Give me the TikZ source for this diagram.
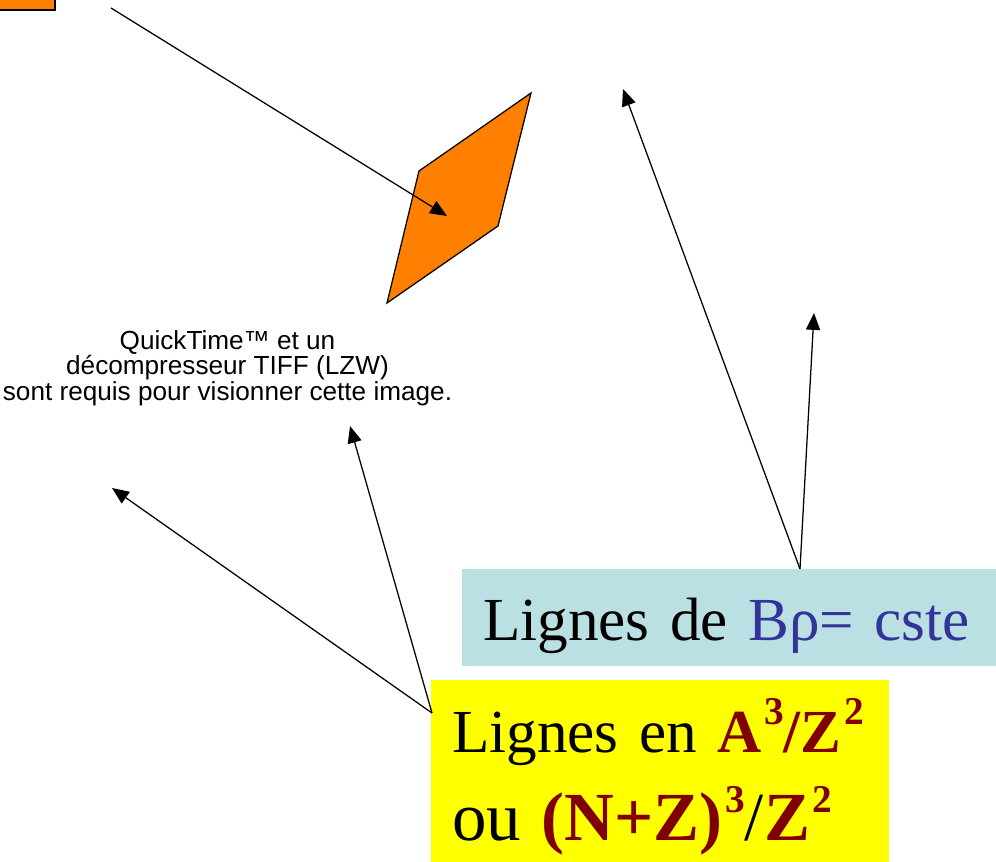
\documentclass[tikz,border=0pt]{standalone}
\usepackage{fontspec}
\setmainfont{Liberation Serif}
\newfontfamily\qtfont{Liberation Sans}
\usepackage{tikz}
\usetikzlibrary{arrows.meta,calc}
\definecolor{orng}{HTML}{FF8000}
\definecolor{brhofill}{HTML}{BBE0E3}
\definecolor{brhotext}{HTML}{333399}
\definecolor{axzfill}{HTML}{FFFF00}
\definecolor{dred}{HTML}{800000}
\tikzset{
  shp/.style={draw=black,fill=orng,line width=0.9pt,line join=miter},
  arr/.style={-{Triangle[length=12pt,width=10pt]},line width=0.9pt},
  lbl/.style={inner xsep=0.525cm,inner ysep=0pt,font=\fontsize{43.5}{62.6}\selectfont,align=left,anchor=north west},
  qt/.style={inner sep=0pt,font=\qtfont\fontsize{18.6}{16.4}\selectfont,align=center},
}
\newcommand{\rd}[1]{\textcolor{dred}{\textbf{#1}}}
\newcommand{\up}[1]{\kern2pt\raisebox{20pt}{\fontsize{28}{28}\selectfont\bfseries #1}}

\begin{document}
\begin{tikzpicture}[x=0.025cm,y=-0.025cm]
\useasboundingbox (0,0) rectangle (996,862);
\clip (0,0) rectangle (996,862);
% orange shapes
\draw[shp] (-20,-20) rectangle (55,10);
\draw[shp] (531,93) -- (419,171) -- (387,303) -- (498,226) -- cycle;
% QuickTime placeholder
\node[qt] (qt) at (227.5,368) {QuickTime™ et un\\décompresseur TIFF (LZW)\\sont requis pour visionner cette image.};
% labels
\node[lbl,fill=brhofill,text width=13cm,text height=1.775cm,text depth=0.65cm] (brho) at (462,569)
  {Lignes~de~\textcolor{brhotext}{Bρ=~cste}};
\node[lbl,fill=axzfill,text width=10.4cm,text height=1.8cm,text depth=3.25cm] (axz) at (431,680)
  {Lignes~en~\rd{A\up{3}/Z\up{2}}\\\fontsize{49}{62.6}\selectfont ou~\rd{(N+Z)\up{3}}/\rd{Z\up{2}}};
% arrow ends
\coordinate (osrc) at (111,8);
\coordinate (otip) at (447,216);
\coordinate (ysrc) at ($(axz.north west)+(1,33)$);
\coordinate (ytip1) at (112,488);
\coordinate (ytip2) at (350,426);
\coordinate (bsrc) at ($(brho.north west)+(338,0)$);
\coordinate (btip1) at (623,89);
\coordinate (btip2) at (814,313);
\draw[arr] (osrc) -- (otip);
\draw[arr] (ysrc) -- (ytip1);
\draw[arr] (ysrc) -- (ytip2);
\draw[arr] (bsrc) -- (btip1);
\draw[arr] (bsrc) -- (btip2);
\end{tikzpicture}
\end{document}
